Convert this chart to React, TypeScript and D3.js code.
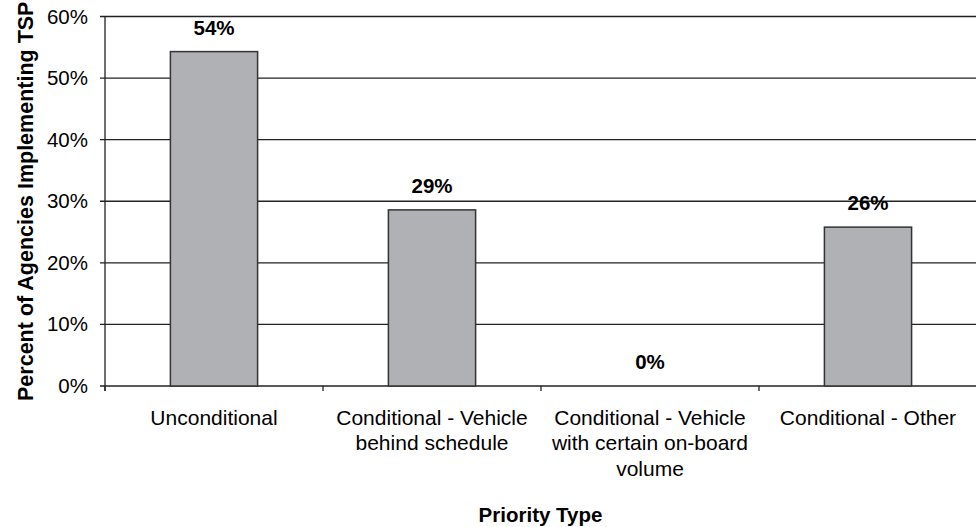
import * as d3 from "d3"

const categories = ["Unconditional", "Conditional - Vehicle behind schedule", "Conditional - Vehicle with certain on-board volume", "Conditional - Other"]
const categoryLines = [
    ["Unconditional"],
    ["Conditional - Vehicle", "behind schedule"],
    ["Conditional - Vehicle", "with certain on-board", "volume"],
    ["Conditional - Other"],
]
const values = [54.3, 28.6, 0, 25.8]
const yTicks = [0, 10, 20, 30, 40, 50, 60]

const width = 976
const height = 527
const margin = { top: 16.5, right: -1, bottom: 141, left: 105 }
const font = "Arial, 'Liberation Sans', Helvetica, sans-serif"

export default function App() {
    const x = d3
        .scaleBand<string>()
        .domain(categories)
        .range([margin.left, width - margin.right])
        .padding(0)
    const y = d3
        .scaleLinear()
        .domain([0, 60])
        .range([height - margin.bottom, margin.top])

    const bw = x.bandwidth()
    const y0 = y(0)
    const boundaries = [...categories.map((c) => x(c)!), x.range()[1]]

    return (
        <svg
            width={width}
            height={height}
            style={{ position: "absolute", left: 0, top: 0, background: "#fff" }}
            fontFamily={font}
        >
            {/* gridlines */}
            {yTicks.map((t) => (
                <line
                    key={"g" + t}
                    x1={margin.left - 5}
                    x2={width}
                    y1={y(t)}
                    y2={y(t)}
                    stroke="#222"
                    strokeWidth={1.3}
                />
            ))}
            {/* y axis line */}
            <line x1={margin.left} x2={margin.left} y1={y(60)} y2={y0 + 5} stroke="#222" strokeWidth={1.3} />
            {/* x ticks */}
            {boundaries.map((b, i) => (
                <line key={"xt" + i} x1={b} x2={b} y1={y0} y2={y0 + 5} stroke="#222" strokeWidth={1.3} />
            ))}
            {/* y tick labels */}
            {yTicks.map((t) => (
                <text key={"yl" + t} x={margin.left - 17} y={y(t) + 7} textAnchor="end" fontSize={20.5} fill="#000">
                    {t + "%"}
                </text>
            ))}
            {/* bars */}
            {categories.map((c, i) =>
                values[i] > 0 ? (
                    <rect
                        key={"b" + i}
                        x={x(c)! + bw * 0.3}
                        y={y(values[i])}
                        width={bw * 0.4}
                        height={y0 - y(values[i])}
                        fill="#b0b1b5"
                        stroke="#333"
                        strokeWidth={1.5}
                    />
                ) : null
            )}
            {/* value labels */}
            {categories.map((c, i) => (
                <text
                    key={"v" + i}
                    x={x(c)! + bw / 2}
                    y={y(values[i]) - 17}
                    textAnchor="middle"
                    fontSize={20.5}
                    fontWeight="bold"
                    fill="#000"
                >
                    {Math.round(values[i]) + "%"}
                </text>
            ))}
            {/* category labels */}
            {categories.map((c, i) => (
                <text key={"c" + i} x={x(c)! + bw / 2} textAnchor="middle" fontSize={21} fill="#000">
                    {categoryLines[i].map((ln, j) => (
                        <tspan key={j} x={x(c)! + bw / 2} y={424.5 + j * 25.5}>
                            {ln}
                        </tspan>
                    ))}
                </text>
            ))}
            {/* axis titles */}
            <text x={(margin.left + width) / 2} y={522} textAnchor="middle" fontSize={20.5} fontWeight="bold" fill="#000">
                Priority Type
            </text>
            <text
                transform={`translate(33,${(y(60) + y0) / 2}) rotate(-90)`}
                textAnchor="middle"
                fontSize={21.5}
                fontWeight="bold"
                fill="#000"
            >
                Percent of Agencies Implementing TSP
            </text>
        </svg>
    )
}
